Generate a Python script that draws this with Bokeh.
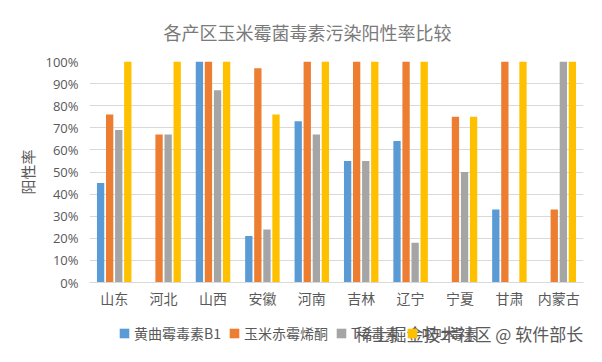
from bokeh.plotting import figure
from bokeh.layouts import column
from bokeh.models import (ColumnDataSource, Legend, LegendItem, Label, FactorRange,
                          NumeralTickFormatter, FixedTicker, Range1d)
from bokeh.transform import dodge
from bokeh.embed import file_html
from bokeh.resources import INLINE

# ---- data ----
regions = ["山东", "河北", "山西", "安徽", "河南", "吉林", "辽宁", "宁夏", "甘肃", "内蒙古"]
series_names = ["黄曲霉毒素B1", "玉米赤霉烯酮", "T-2毒素", "呕吐毒素"]
afb1 = [0.45, 0.00, 1.00, 0.21, 0.73, 0.55, 0.64, 0.00, 0.33, 0.00]
zen = [0.76, 0.67, 1.00, 0.97, 1.00, 1.00, 1.00, 0.75, 1.00, 0.33]
t2 = [0.69, 0.67, 0.87, 0.24, 0.67, 0.55, 0.18, 0.50, 0.00, 1.00]
don = [1.00, 1.00, 1.00, 0.76, 1.00, 1.00, 1.00, 0.75, 1.00, 1.00]
y_ticks = [0, 0.1, 0.2, 0.3, 0.4, 0.5, 0.6, 0.7, 0.8, 0.9, 1.0]
title_text = "各产区玉米霉菌毒素污染阳性率比较"
y_label = "阳性率"
watermark = "稀土掘金技术社区 @ 软件部长"

colors = ["#5B9BD5", "#ED7D31", "#A5A5A5", "#FFC000"]
TEXT = "#595959"
CJK = "Noto Sans CJK SC"

source = ColumnDataSource(dict(region=regions, afb1=afb1, zen=zen, t2=t2, don=don))

# ---- main chart ----
p = figure(width=586, height=312, x_range=FactorRange(factors=regions),
           y_range=Range1d(0, 1), output_backend="svg", toolbar_location=None,
           min_border_left=89, min_border_right=3, min_border_top=57, min_border_bottom=30)
p.outline_line_color = None
p.background_fill_color = "white"
p.border_fill_color = "white"

offsets = [-0.275, -0.092, 0.092, 0.275]
keys = ["afb1", "zen", "t2", "don"]
for k, off, c in zip(keys, offsets, colors):
    p.vbar(x=dodge("region", off, range=p.x_range), top=k, width=0.148,
           source=source, fill_color=c, line_color=None)

p.title.text = title_text
p.title.align = "left"
p.title.offset = 74
p.title.standoff = 33
p.title.text_font = CJK
p.title.text_font_size = "18px"
p.title.text_font_style = "normal"
p.title.text_color = "#7A7A7A"

p.yaxis.ticker = FixedTicker(ticks=y_ticks)
p.yaxis.formatter = NumeralTickFormatter(format="0%")
p.yaxis.axis_line_color = None
p.yaxis.major_tick_line_color = None
p.yaxis.minor_tick_line_color = None
p.yaxis.major_tick_out = 0
p.yaxis.major_label_standoff = 11
p.yaxis.major_label_text_font = "Open Sans"
p.yaxis.major_label_text_font_size = "13px"
p.yaxis.major_label_text_color = TEXT
p.yaxis.axis_label = y_label
p.yaxis.axis_label_standoff = 4
p.yaxis.axis_label_text_font = CJK
p.yaxis.axis_label_text_font_size = "15px"
p.yaxis.axis_label_text_font_style = "normal"
p.yaxis.axis_label_text_color = TEXT

p.xaxis.axis_line_color = "#D9D9D9"
p.xaxis.major_tick_line_color = None
p.xaxis.minor_tick_line_color = None
p.xaxis.major_tick_out = 0
p.xaxis.major_label_standoff = 5
p.xaxis.major_label_text_font = CJK
p.xaxis.major_label_text_font_size = "14px"
p.xaxis.major_label_text_color = TEXT

p.xgrid.grid_line_color = None
p.ygrid.grid_line_color = "#D9D9D9"
p.ygrid.ticker = FixedTicker(ticks=y_ticks)

# ---- legend strip (its frame is aligned with the main frame: x 89..583) ----
q = figure(width=586, height=34, x_range=Range1d(0, 1), y_range=Range1d(0, 1),
           x_axis_location=None, y_axis_location=None, output_backend="svg",
           toolbar_location=None, min_border=0)
q.outline_line_color = None
q.background_fill_color = "white"
q.border_fill_color = "white"
q.xgrid.visible = False
q.ygrid.visible = False
# zero-size proxy glyphs so the legend swatches are drawn
proxies = [q.vbar(x=[0], top=[0], bottom=[0], width=0, fill_color=c, line_color=None)
           for c in colors]
legend = Legend(items=[LegendItem(label=n, renderers=[r]) for n, r in zip(series_names, proxies)],
                orientation="horizontal", location=(29, 3), glyph_width=12, glyph_height=12,
                label_standoff=4, spacing=7, padding=0, margin=0, border_line_color=None,
                background_fill_alpha=0, label_text_font=CJK, label_text_font_size="14px",
                label_text_color=TEXT, label_height=12)
q.add_layout(legend, "center")
q.add_layout(Label(x=266, y=13, x_units="screen", y_units="screen", text=watermark,
                   text_align="left", text_baseline="middle", text_font=CJK,
                   text_font_size="17px", text_color="#5A5A5A"))

layout = column(p, q, spacing=0)
open("out.html", "w").write(file_html(layout, INLINE))
